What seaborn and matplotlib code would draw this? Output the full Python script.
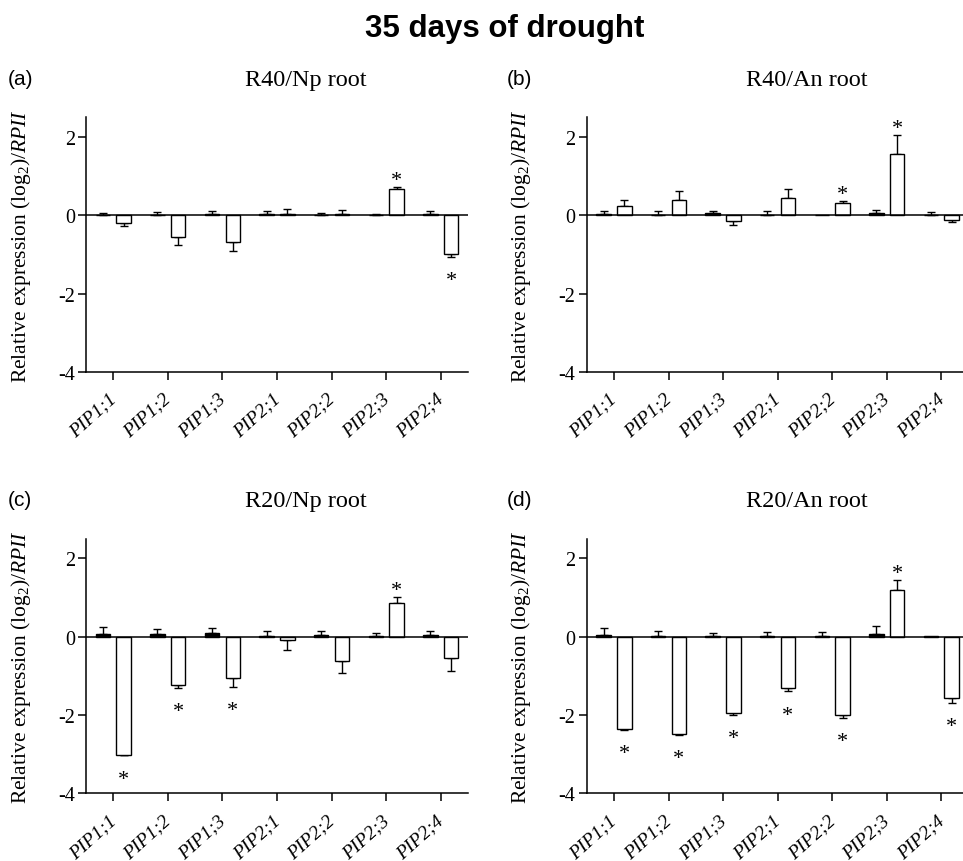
import matplotlib
matplotlib.use("Agg")
import matplotlib.pyplot as plt
import matplotlib.transforms as mtransforms
from matplotlib import font_manager as fm
import numpy as np
import pandas as pd
import seaborn as sns

# ---------------- data ----------------
genes = ["PIP1;1", "PIP1;2", "PIP1;3", "PIP2;1", "PIP2;2", "PIP2;3", "PIP2;4"]
groups = ["control", "drought"]
panel_titles = ["R40/Np root", "R40/An root", "R20/Np root", "R20/An root"]
panel_letters = ["(a)", "(b)", "(c)", "(d)"]
main_title = "35 days of drought"

ctrl_a = [0.02, 0.02, 0.03, 0.03, 0.02, 0.02, 0.03]
ctrl_a_se = [0.05, 0.06, 0.09, 0.09, 0.04, 0.01, 0.07]
trt_a = [-0.20, -0.55, -0.69, 0.03, 0.03, 0.66, -0.99]
trt_a_se = [0.06, 0.20, 0.21, 0.12, 0.11, 0.07, 0.08]
sig_a = [0, 0, 0, 0, 0, 1, 1]

ctrl_b = [0.04, 0.01, 0.05, 0.01, 0.0, 0.05, 0.02]
ctrl_b_se = [0.06, 0.09, 0.05, 0.09, 0.0, 0.08, 0.06]
trt_b = [0.24, 0.40, -0.14, 0.44, 0.31, 1.57, -0.13]
trt_b_se = [0.15, 0.23, 0.11, 0.23, 0.05, 0.49, 0.03]
sig_b = [0, 0, 0, 0, 1, 1, 0]

ctrl_c = [0.07, 0.07, 0.08, 0.02, 0.04, 0.02, 0.03]
ctrl_c_se = [0.17, 0.13, 0.15, 0.12, 0.10, 0.08, 0.11]
trt_c = [-3.02, -1.24, -1.06, -0.085, -0.63, 0.86, -0.54]
trt_c_se = [0.01, 0.07, 0.22, 0.25, 0.31, 0.14, 0.35]
sig_c = [1, 1, 1, 0, 0, 1, 0]

ctrl_d = [0.04, 0.02, 0.02, 0.02, 0.02, 0.06, 0.01]
ctrl_d_se = [0.17, 0.12, 0.07, 0.09, 0.10, 0.20, 0.0]
trt_d = [-2.37, -2.49, -1.96, -1.32, -2.00, 1.18, -1.57]
trt_d_se = [0.02, 0.02, 0.04, 0.08, 0.08, 0.27, 0.13]
sig_d = [1, 1, 1, 1, 1, 1, 1]

panels = [
    (ctrl_a, ctrl_a_se, trt_a, trt_a_se, sig_a),
    (ctrl_b, ctrl_b_se, trt_b, trt_b_se, sig_b),
    (ctrl_c, ctrl_c_se, trt_c, trt_c_se, sig_c),
    (ctrl_d, ctrl_d_se, trt_d, trt_d_se, sig_d),
]

# ---------------- style ----------------
sns.set_style("ticks")
SERIF = ["Liberation Serif", "DejaVu Serif"]
SANS = ["Liberation Sans", "DejaVu Sans"]
plt.rcParams["font.family"] = SERIF
plt.rcParams["mathtext.fontset"] = "custom"
plt.rcParams["mathtext.rm"] = "Liberation Serif"
plt.rcParams["mathtext.it"] = "Liberation Serif:italic"
plt.rcParams["axes.linewidth"] = 1.1
for key in ["text.color", "axes.labelcolor", "axes.edgecolor",
            "xtick.color", "ytick.color"]:
    plt.rcParams[key] = "black"

# find the regular (non-narrow) Liberation Sans Bold file
bold_path = None
for f in fm.findSystemFonts():
    name = f.split("/")[-1]
    if name.lower() == "liberationsans-bold.ttf":
        bold_path = f
        break
if bold_path:
    title_fp = fm.FontProperties(fname=bold_path, size=22.5)
else:
    title_fp = fm.FontProperties(family=SANS, weight="bold", size=22.5)

fig = plt.figure(figsize=(9.63, 8.62), dpi=100)
W, H = 963.0, 862.0

axes_px = [  # left, top, right, bottom in pixels
    (86, 118.4, 468, 373),
    (586.7, 118.4, 968.5, 373),
    (86, 539.7, 468, 794.3),
    (586.7, 539.7, 968.5, 794.3),
]
title_x = [306, 807, 306, 807]
letter_x = [8, 507, 8, 507]
text_base = [86, 86, 507, 507]

palette = {"control": "black", "drought": "white"}
label_shift = mtransforms.ScaledTranslation(-5 / 100, -7 / 100, fig.dpi_scale_trans)

for i, (l, t, r, b) in enumerate(axes_px):
    ax = fig.add_axes([l / W, 1 - b / H, (r - l) / W, (b - t) / H])
    ctrl, ctrl_se, trt, trt_se, sig = panels[i]
    df = pd.DataFrame({
        "gene": genes * 2,
        "group": ["control"] * len(genes) + ["drought"] * len(genes),
        "value": list(ctrl) + list(trt),
    })
    sns.barplot(data=df, x="gene", y="value", hue="group", hue_order=groups,
                order=genes, palette=palette, saturation=1, edgecolor="black",
                linewidth=1.0, width=0.76, gap=0.3, errorbar=None,
                legend=False, ax=ax, zorder=2)

    for p in list(ax.patches):
        xc = p.get_x() + p.get_width() / 2
        cat = int(round(xc))
        g = 0 if xc < cat else 1
        val = ctrl[cat] if g == 0 else trt[cat]
        se = ctrl_se[cat] if g == 0 else trt_se[cat]
        if se > 0:
            if val >= 0:
                yerr = [[0], [se]]
            else:
                yerr = [[se], [0]]
            ax.errorbar([xc], [val], yerr=yerr, fmt="none", ecolor="black",
                        elinewidth=1.0, capsize=2.6, capthick=1.0, zorder=1.5)
        if g == 1 and sig[cat]:
            end = val + se if val >= 0 else val - se
            if val >= 0:
                ys = end + 0.05
            else:
                ys = end - 0.72
            ax.text(xc, ys, "*", ha="center", va="baseline", fontsize=16,
                    family=SERIF, color="black")

    ax.axhline(0, color="black", lw=1.1, zorder=3)
    ax.set_xlim(-0.5, 6.5)
    ax.set_ylim(-4, 2.5)
    ax.set_yticks([-4, -2, 0, 2])
    ax.set_yticklabels(["-4", "-2", "0", "2"])
    ax.set_xlabel("")
    ax.set_ylabel("Relative expression (log$_2$)/$\\it{RPII}$", fontsize=15.5,
                  color="black")
    ax.yaxis.set_label_coords(-0.14, 0.5)
    sns.despine(ax=ax)
    for s in ["left", "bottom"]:
        ax.spines[s].set_color("black")
    ax.tick_params(axis="y", direction="out", length=6, width=1.1,
                   labelsize=14.5, pad=2, colors="black")
    ax.tick_params(axis="x", direction="out", length=6, width=1.1,
                   labelsize=14, pad=2, colors="black")
    for lab in ax.get_xticklabels():
        lab.set_rotation(42)
        lab.set_ha("right")
        lab.set_va("top")
        lab.set_rotation_mode("anchor")
        lab.set_fontstyle("italic")
        lab.set_transform(lab.get_transform() + label_shift)

    fig.text(title_x[i] / W, 1 - text_base[i] / H, panel_titles[i],
             ha="center", va="baseline", fontsize=17.5, family=SERIF,
             color="black")
    fig.text(letter_x[i] / W, 1 - (text_base[i] - 1) / H, panel_letters[i],
             ha="left", va="baseline", fontsize=15, family=SANS, color="black")

fig.text(505 / W, 1 - 37 / H, main_title, ha="center", va="baseline",
         fontproperties=title_fp, color="black")

fig.savefig("out.png", dpi=100)
